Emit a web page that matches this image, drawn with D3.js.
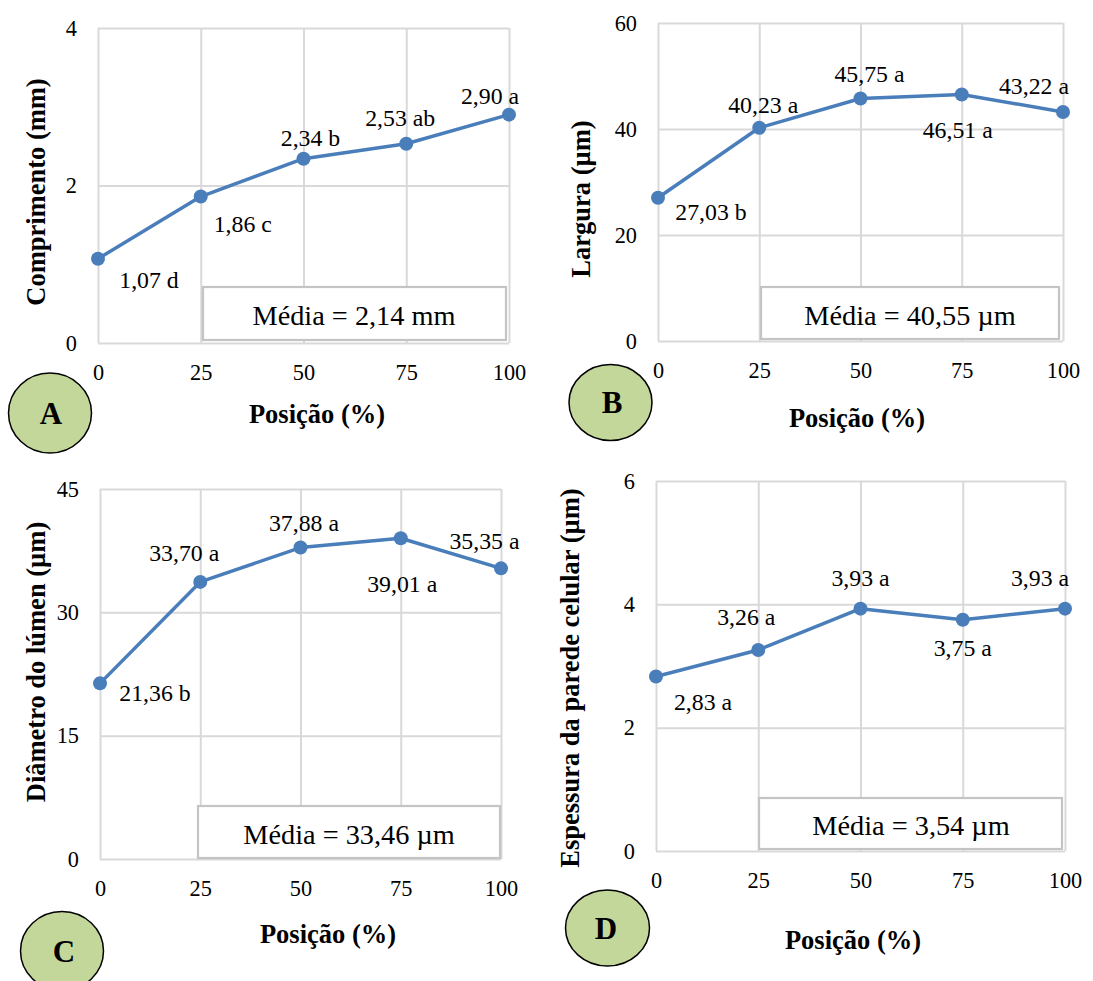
<!DOCTYPE html>
<html>
<head>
<meta charset="utf-8">
<script src="https://cdn.jsdelivr.net/npm/d3@7/dist/d3.min.js"></script>
<style>
  html, body { margin: 0; padding: 0; background: #fff; }
  svg { display: block; }
</style>
</head>
<body>
<svg id="chart" width="1093" height="981"></svg>
<script>
// ---------------- DATA ----------------
const positions = [0, 25, 50, 75, 100];
const xTickLabels = [0, 25, 50, 75, 100];

const comprimento = [1.07, 1.86, 2.34, 2.53, 2.90];
const comprimentoLetters = ["d", "c", "b", "ab", "a"];
const comprimentoTicks = [0, 2, 4];

const largura = [27.03, 40.23, 45.75, 46.51, 43.22];
const larguraLetters = ["b", "a", "a", "a", "a"];
const larguraTicks = [0, 20, 40, 60];

const lumen = [21.36, 33.70, 37.88, 39.01, 35.35];
const lumenLetters = ["b", "a", "a", "a", "a"];
const lumenTicks = [0, 15, 30, 45];

const parede = [2.83, 3.26, 3.93, 3.75, 3.93];
const paredeLetters = ["a", "a", "a", "a", "a"];
const paredeTicks = [0, 2, 4, 6];

const yTitles = ["Comprimento (mm)", "Largura (µm)", "Diâmetro do lúmen (µm)", "Espessura da parede celular (µm)"];
const xTitle = "Posição (%)";
const mediaTexts = ["Média = 2,14 mm", "Média = 40,55 µm", "Média = 33,46 µm", "Média = 3,54 µm"];
const panelLetters = ["A", "B", "C", "D"];

// ---------------- LAYOUT ----------------
const layout = [
  { plot: {l: 98, r: 509, t: 28, b: 343}, yTitle: [36, 192], xTitle: [317, 414],
    box: {l: 203, r: 506, t: 287, b: 340}, boxText: [354, 315],
    badge: {cx: 50, cy: 413, rx: 41.5, ry: 40}, badgeText: [51, 413],
    offsets: [[51, 21], [42, 27], [7, -21], [-6, -26], [-19, -19]] },
  { plot: {l: 658, r: 1063, t: 23, b: 341}, yTitle: [581, 199], xTitle: [857, 418],
    box: {l: 761, r: 1059, t: 287, b: 339}, boxText: [910, 315],
    badge: {cx: 610.5, cy: 402.5, rx: 41.5, ry: 38}, badgeText: [612, 402],
    offsets: [[53, 14], [4, -23], [9, -24.5], [-4, 35.5], [-29, -26]] },
  { plot: {l: 100, r: 501, t: 489, b: 859}, yTitle: [36, 662], xTitle: [328, 934],
    box: {l: 198, r: 500, t: 806, b: 858}, boxText: [349, 834],
    badge: {cx: 62, cy: 951, rx: 41.5, ry: 39.5}, badgeText: [64, 951],
    offsets: [[55, 9], [-16, -29], [3.5, -25], [1.5, 45], [-16.5, -28]] },
  { plot: {l: 656, r: 1065, t: 481, b: 851}, yTitle: [570, 678], xTitle: [853, 940],
    box: {l: 759, r: 1062, t: 798, b: 849}, boxText: [911, 825],
    badge: {cx: 607.5, cy: 928, rx: 42, ry: 38}, badgeText: [606, 928],
    offsets: [[47, 25], [-12, -33], [0, -30.5], [0, 28], [-25, -30.5]] }
];

const panels = [
  { values: comprimento, letters: comprimentoLetters, ticks: comprimentoTicks },
  { values: largura, letters: larguraLetters, ticks: larguraTicks },
  { values: lumen, letters: lumenLetters, ticks: lumenTicks },
  { values: parede, letters: paredeLetters, ticks: paredeTicks }
];

const lineColor = "#4a7ebb";
const gridColor = "#d9d9d9";
const FONT = "Liberation Serif";
const fmt = v => d3.format(".2f")(v).replace(".", ",");

const svg = d3.select("#chart");

panels.forEach((p, i) => {
  const L = layout[i];
  const g = svg.append("g");
  const w = L.plot.r - L.plot.l, h = L.plot.b - L.plot.t;
  const x = d3.scaleLinear().domain([0, 100]).range([L.plot.l, L.plot.r]);
  const y = d3.scaleLinear().domain([0, d3.max(p.ticks)]).range([L.plot.b, L.plot.t]);

  // gridlines
  const gy = g.append("g").attr("transform", `translate(${L.plot.l},0)`)
    .call(d3.axisLeft(y).tickValues(p.ticks).tickSize(-w).tickFormat(""));
  const gx = g.append("g").attr("transform", `translate(0,${L.plot.b})`)
    .call(d3.axisBottom(x).tickValues(xTickLabels).tickSize(-h).tickFormat(""));
  [gy, gx].forEach(a => {
    a.select(".domain").remove();
    a.selectAll("line").attr("stroke", gridColor).attr("stroke-width", 2);
  });

  // tick labels
  const ly = g.append("g").attr("transform", `translate(${L.plot.l},0)`)
    .call(d3.axisLeft(y).tickValues(p.ticks).tickSize(0).tickPadding(21).tickFormat(d => String(d)));
  const lx = g.append("g").attr("transform", `translate(0,${L.plot.b})`)
    .call(d3.axisBottom(x).tickValues(xTickLabels).tickSize(0).tickPadding(21).tickFormat(d => String(d)));
  [ly, lx].forEach(a => {
    a.attr("font-family", FONT).attr("font-size", 22.3);
    a.select(".domain").remove();
    a.selectAll("text").attr("fill", "#000").attr("font-family", FONT).attr("font-size", 22.3);
  });

  // media box
  g.append("rect")
    .attr("x", L.box.l).attr("y", L.box.t)
    .attr("width", L.box.r - L.box.l).attr("height", L.box.b - L.box.t)
    .attr("fill", "#fff").attr("stroke", "#c4c4c4").attr("stroke-width", 2.2);
  g.append("text").attr("x", L.boxText[0]).attr("y", L.boxText[1])
    .attr("text-anchor", "middle").attr("dy", "0.35em")
    .attr("font-family", FONT).attr("font-size", 28.3).attr("fill", "#000")
    .text(mediaTexts[i]);

  // line
  const pts = positions.map((pos, j) => ({ x: pos, v: p.values[j], lab: p.letters[j], j }));
  g.append("path").datum(pts)
    .attr("fill", "none").attr("stroke", lineColor).attr("stroke-width", 3.5)
    .attr("stroke-linejoin", "round")
    .attr("d", d3.line().x(d => x(d.x)).y(d => y(d.v)));
  g.selectAll("circle.pt").data(pts).join("circle").attr("class", "pt")
    .attr("cx", d => x(d.x)).attr("cy", d => y(d.v)).attr("r", 7)
    .attr("fill", lineColor);

  // data labels
  g.selectAll("text.dl").data(pts).join("text").attr("class", "dl")
    .attr("x", d => x(d.x) + L.offsets[d.j][0])
    .attr("y", d => y(d.v) + L.offsets[d.j][1])
    .attr("text-anchor", "middle").attr("dy", "0.35em")
    .attr("font-family", FONT).attr("font-size", 23.8).attr("fill", "#000")
    .text(d => fmt(d.v) + " " + d.lab);

  // axis titles
  g.append("text")
    .attr("transform", `translate(${L.yTitle[0]},${L.yTitle[1]}) rotate(-90)`)
    .attr("text-anchor", "middle").attr("dy", "0.35em")
    .attr("font-family", FONT).attr("font-size", 26.5).attr("font-weight", "bold").attr("fill", "#000")
    .text(yTitles[i]);
  g.append("text").attr("x", L.xTitle[0]).attr("y", L.xTitle[1])
    .attr("text-anchor", "middle").attr("dy", "0.35em")
    .attr("font-family", FONT).attr("font-size", 26.5).attr("font-weight", "bold").attr("fill", "#000")
    .text(xTitle);

  // badge
  g.append("ellipse")
    .attr("cx", L.badge.cx).attr("cy", L.badge.cy)
    .attr("rx", L.badge.rx).attr("ry", L.badge.ry)
    .attr("fill", "#c4d79b").attr("stroke", "#000").attr("stroke-width", 1.5);
  g.append("text").attr("x", L.badgeText[0]).attr("y", L.badgeText[1])
    .attr("text-anchor", "middle").attr("dy", "0.35em")
    .attr("font-family", FONT).attr("font-size", 31).attr("font-weight", "bold").attr("fill", "#000")
    .text(panelLetters[i]);
});
</script>
</body>
</html>
